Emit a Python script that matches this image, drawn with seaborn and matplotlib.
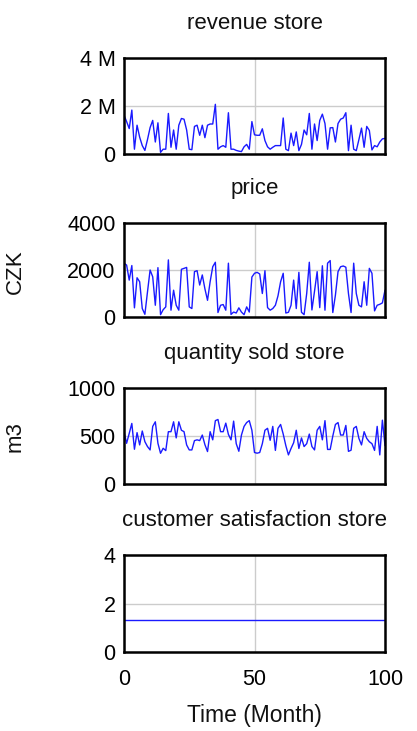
import numpy as np
import pandas as pd
import matplotlib
matplotlib.use("Agg")
import matplotlib.pyplot as plt
from matplotlib.ticker import FuncFormatter
import seaborn as sns

# simulation output, one value per month (0..100)
months = list(range(101))

revenue_store = [
    1.62, 1.35, 1.06, 1.83, 0.20, 1.20, 0.70, 0.35, 0.15, 0.60,
    1.10, 1.40, 0.50, 1.30, 0.07, 0.20, 0.20, 1.69, 0.28, 1.00,
    0.20, 1.20, 1.48, 1.45, 1.00, 0.20, 0.18, 1.15, 1.20, 0.78,
    1.20, 0.68, 1.20, 1.25, 1.25, 2.07, 0.20, 0.30, 0.35, 0.28,
    1.72, 0.20, 0.20, 0.15, 0.12, 0.10, 0.30, 0.40, 0.20, 1.35,
    0.80, 0.78, 0.78, 1.05, 0.56, 0.30, 0.20, 0.28, 0.35, 0.35,
    0.35, 1.50, 0.20, 0.14, 0.87, 0.35, 0.92, 0.14, 0.40, 1.00,
    0.80, 1.69, 0.20, 1.25, 0.56, 1.40, 1.66, 1.27, 0.20, 1.09,
    1.10, 0.50, 1.27, 1.45, 1.50, 1.72, 0.14, 1.20, 0.20, 0.14,
    0.60, 1.08, 0.28, 1.15, 0.98, 0.17, 0.35, 0.30, 0.50, 0.63,
    0.65,
]  # millions

price = [
    2290, 2210, 1570, 2190, 390, 1670, 1500, 360, 115, 1070,
    2000, 1710, 500, 2100, 100, 310, 430, 2430, 290, 1140,
    500, 290, 2030, 2070, 2110, 430, 360, 1930, 1970, 1360,
    1790, 1200, 710, 1500, 2140, 2330, 190, 500, 530, 290,
    2290, 110, 210, 170, 390, 210, 100, 430, 210, 1700,
    1860, 1900, 1830, 1000, 1970, 400, 290, 360, 500, 900,
    1500, 1860, 170, 200, 500, 1570, 360, 1900, 200, 100,
    1000, 2330, 300, 1100, 1930, 400, 2180, 290, 2290, 2400,
    190, 930, 1930, 2140, 2170, 2120, 1000, 190, 2290, 1000,
    500, 430, 1500, 500, 2070, 1860, 260, 500, 540, 600,
    1140,
]

quantity_sold_store = [
    545, 424, 527, 631, 362, 535, 407, 552, 441, 390,
    355, 600, 648, 424, 320, 372, 348, 545, 545, 648,
    480, 648, 560, 545, 407, 355, 355, 452, 460, 452,
    510, 410, 338, 545, 460, 660, 672, 545, 545, 634,
    517, 460, 655, 420, 341, 510, 600, 640, 660, 560,
    328, 321, 328, 420, 560, 580, 455, 600, 350, 580,
    620, 520, 400, 303, 370, 430, 560, 370, 480, 390,
    420, 520, 390, 355, 560, 600, 460, 660, 360, 360,
    500, 620, 640, 510, 510, 610, 340, 352, 580, 600,
    475, 407, 545, 475, 440, 420, 350, 600, 303, 665,
    400,
]

customer_satisfaction_store = [1.3] * 101

df = pd.DataFrame({
    "Time": months,
    "revenue store": np.array(revenue_store) * 1e6,
    "price": price,
    "quantity sold store": quantity_sold_store,
    "customer satisfaction store": customer_satisfaction_store,
})

sns.set_style("white")
plt.rcParams["font.family"] = ["Liberation Sans", "DejaVu Sans"]

W, H = 417, 731
fig = plt.figure(figsize=(W / 100, H / 100), dpi=100)

# panel boxes in pixels: (top, bottom)
boxes = [(58, 154), (223, 317), (388, 484), (555, 652)]
panels = [
    ("revenue store", [0, 2e6, 4e6], (0, 4e6)),
    ("price", [0, 2000, 4000], (0, 4000)),
    ("quantity sold store", [0, 500, 1000], (0, 1000)),
    ("customer satisfaction store", [0, 2, 4], (0, 4)),
]

left, right = 124, 385
axes = []
for (top, bot), (name, yt, ylim) in zip(boxes, panels):
    ax = fig.add_axes([left / W, 1 - bot / H, (right - left) / W, (bot - top) / H])
    sns.lineplot(data=df, x="Time", y=name, ax=ax, color="#1a1aff", linewidth=1.0)
    ax.set_xlim(0, 100)
    ax.set_ylim(*ylim)
    ax.set_yticks(yt)
    ax.set_xticks([0, 50, 100])
    ax.grid(True, color="#cccccc", linewidth=1.0)
    ax.set_axisbelow(True)
    for s in ax.spines.values():
        s.set_color("black")
        s.set_linewidth(1.8)
    ax.tick_params(axis="both", length=0, labelsize=15.5, pad=6, labelcolor="black")
    ax.set_title(name, fontsize=16, pad=21, color="#111111")
    ax.set_xlabel("")
    ax.set_ylabel("")
    axes.append(ax)

axes[0].yaxis.set_major_formatter(
    FuncFormatter(lambda v, p: "0" if v == 0 else f"{int(v / 1e6)} M"))
for ax in axes[:3]:
    ax.tick_params(axis="x", labelbottom=False)
axes[3].tick_params(axis="x", pad=12)
axes[3].set_xlabel("Time (Month)", fontsize=16.5, labelpad=10, color="#111111")

fig.text(15 / W, 1 - 272 / H, "CZK", rotation=90, fontsize=16, ha="center", va="center", color="#111111")
fig.text(15 / W, 1 - 437 / H, "m3", rotation=90, fontsize=16, ha="center", va="center", color="#111111")

fig.savefig("out.png", dpi=100)
